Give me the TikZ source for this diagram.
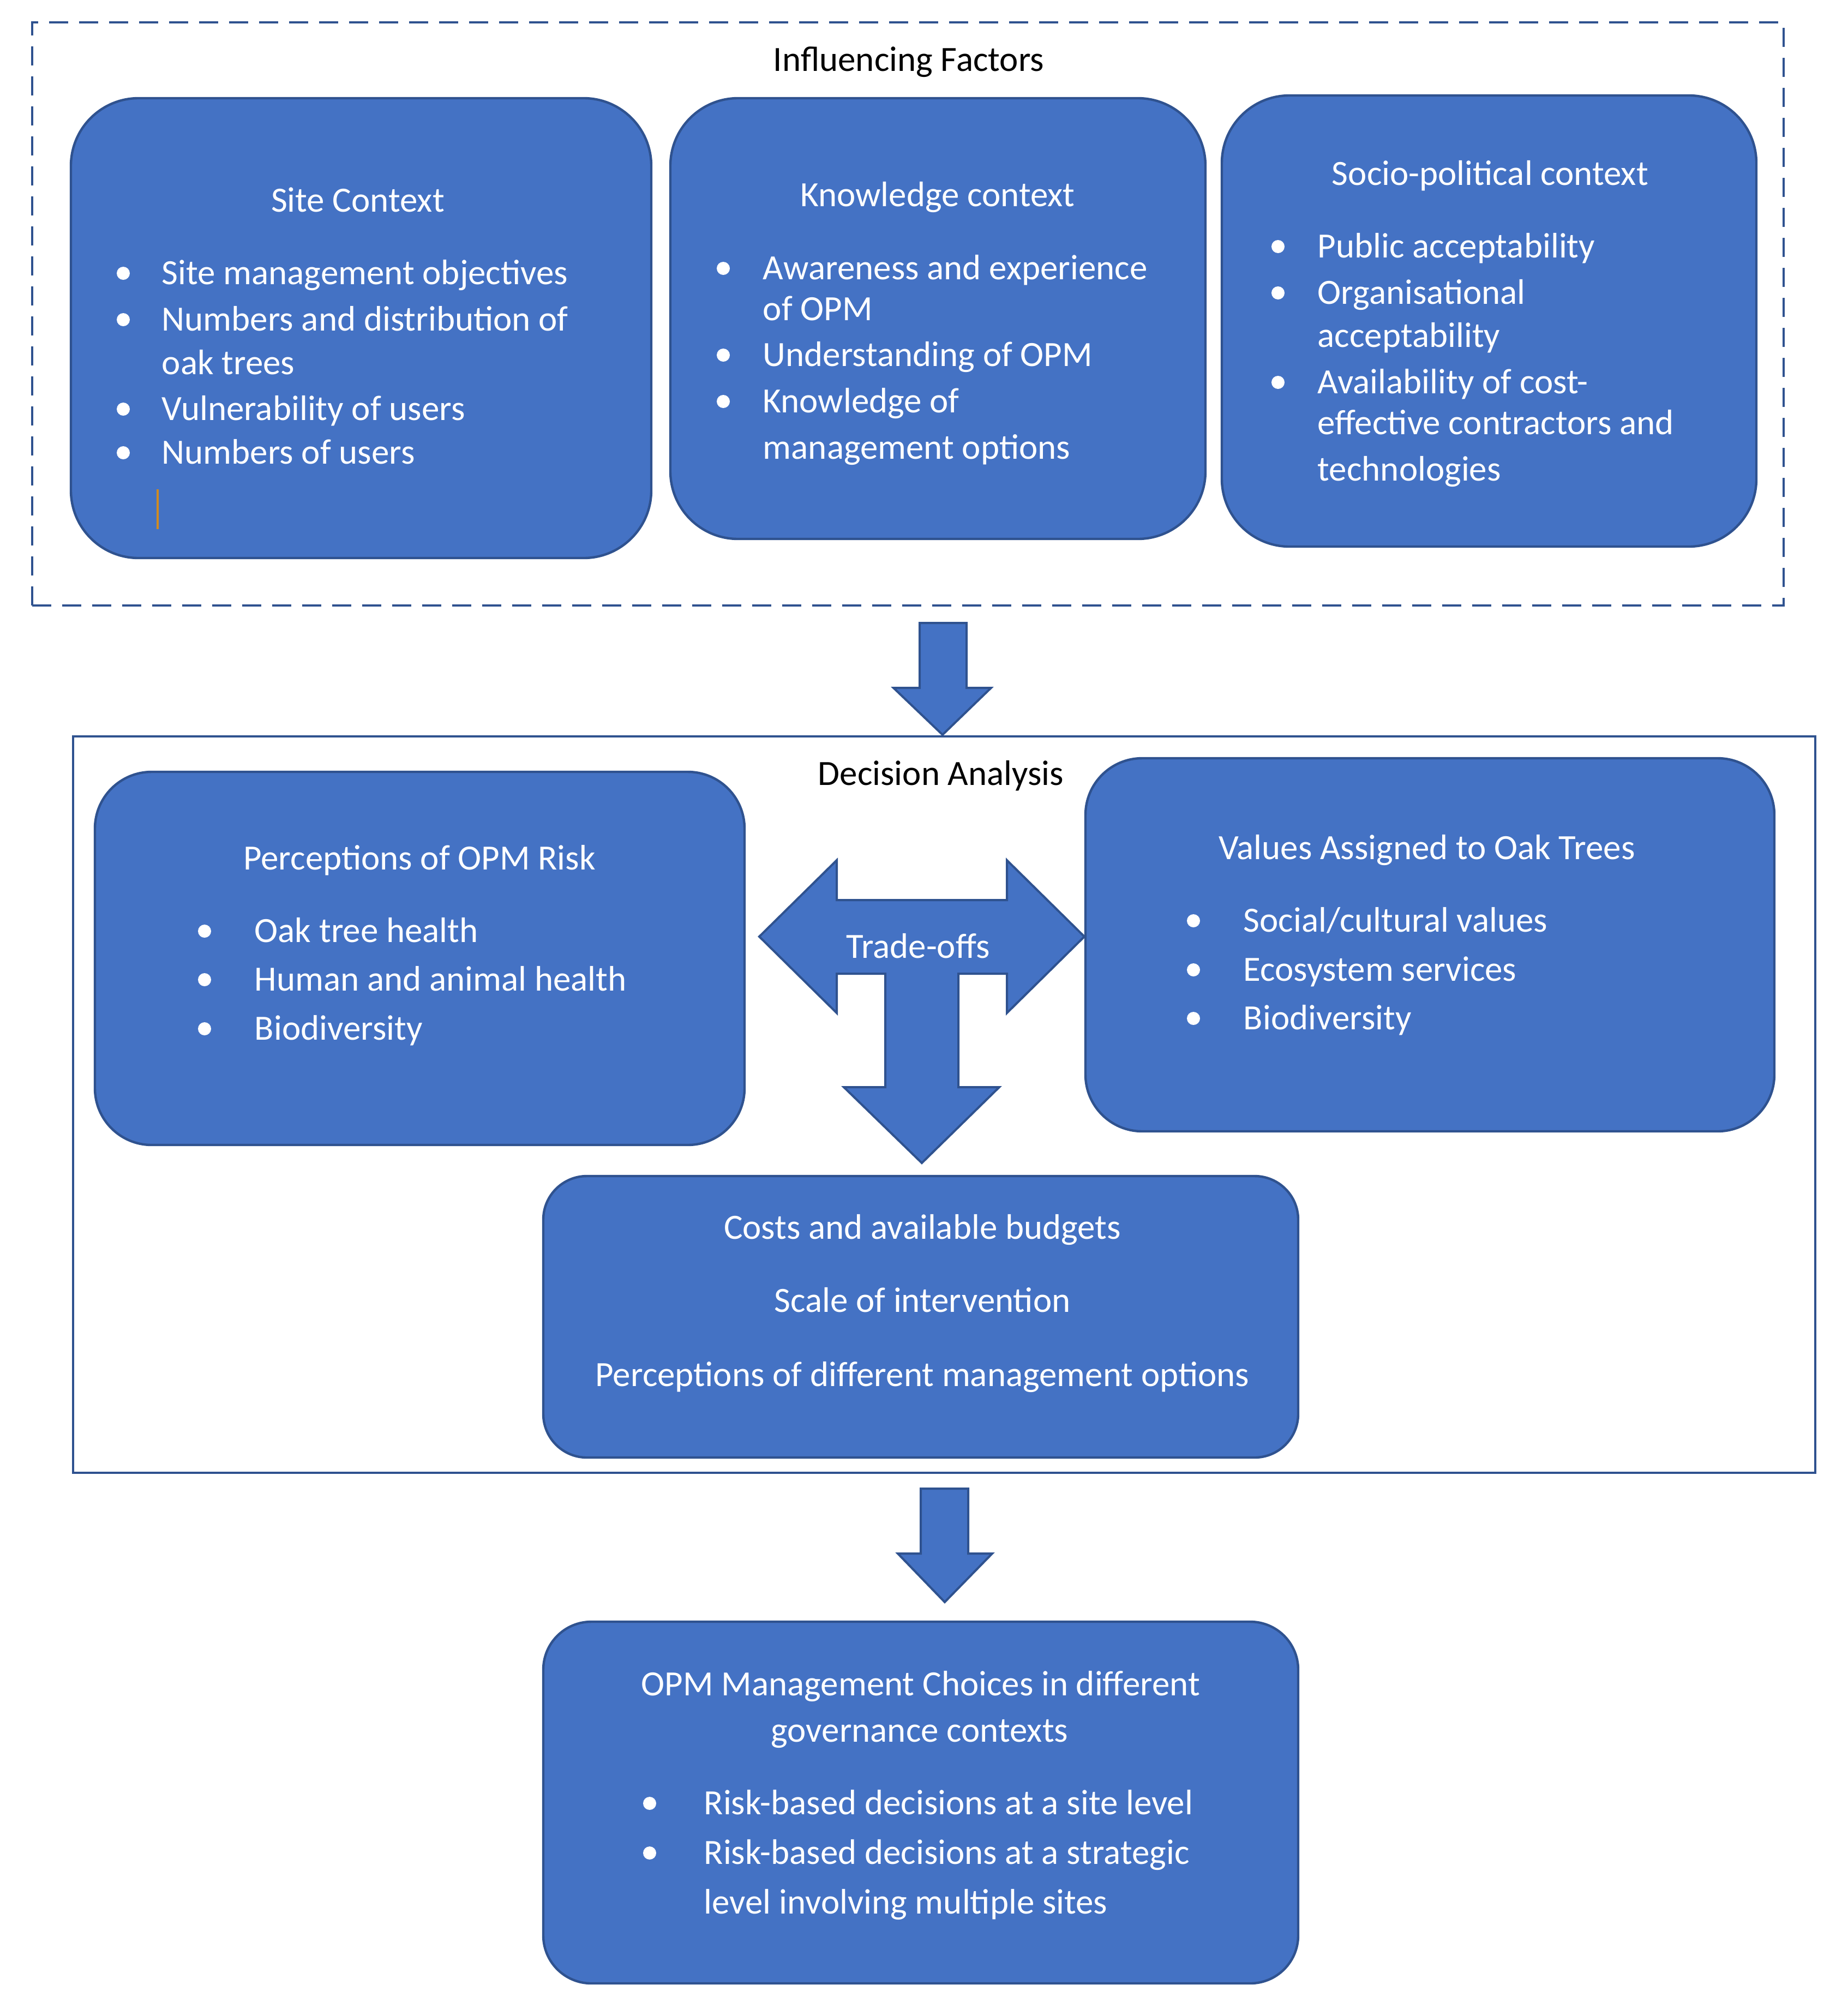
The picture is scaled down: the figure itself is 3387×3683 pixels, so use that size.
\documentclass[tikz,border=0pt]{standalone}
\usepackage{fontspec}
\setmainfont{Carlito}
\usetikzlibrary{fit}
\definecolor{boxfill}{HTML}{4472C4}
\definecolor{boxline}{HTML}{2F528F}
\definecolor{cursorcol}{HTML}{D08A20}
\tikzset{
  box/.style={draw=boxline, fill=boxfill, line width=1.1pt, inner sep=0pt},
  frame/.style={draw=boxline, line width=1.1pt, inner sep=0pt},
  dashframe/.style={frame, dash pattern=on 8.75pt off 5pt},
  blockarrow/.style={draw=boxline, fill=boxfill, line width=1pt, line join=miter},
  wtxt/.style={text=white, font=\fontsize{16.25}{20.3}\selectfont, inner sep=0pt, anchor=base west},
  wtitle/.style={wtxt, anchor=base},
  btitle/.style={text=black, font=\fontsize{16.25}{20.3}\selectfont, inner sep=0pt, anchor=base},
  bul/.style={circle, fill=white, inner sep=0pt, minimum size=6pt}
}
\begin{document}
\begin{tikzpicture}[x=0.25pt, y=-0.25pt]
\useasboundingbox (0,0) rectangle (3387,3683);

% ---------- Influencing factors frame ----------
\node[dashframe, fit={(59,41) (3270,1110)}] (inf) {};
\node[btitle] (inflabel) at (1666,130) {Influencing Factors};

% Site context
\node[box, rounded corners=31pt, fit={(130,180) (1194,1023)}] (site) {};
\node[wtitle] (sitet) at (656,388) {Site Context};
\node[bul] (sb1) at (226,501) {};
\node[bul] (sb2) at (226,586) {};
\node[bul] (sb3) at (226,750) {};
\node[bul] (sb4) at (226,830) {};
\node[wtxt] (st1) at (296,521) {Site management objectives};
\node[wtxt] (st2) at (296,606) {Numbers and distribution of};
\node[wtxt] (st2b) at (296,686) {oak trees};
\node[wtxt] (st3) at (296,770) {Vulnerability of users};
\node[wtxt] (st4) at (296,850) {Numbers of users};
\coordinate (cur1) at (289,897);
\coordinate (cur2) at (289,970);
\draw[cursorcol, line width=1.1pt] (cur1) -- (cur2);

% Knowledge context
\node[box, rounded corners=31pt, fit={(1229,180) (2210,988)}] (know) {};
\node[wtitle] (knowt) at (1719,378) {Knowledge context};
\node[bul] (kb1) at (1326,492) {};
\node[bul] (kb2) at (1326,651) {};
\node[bul] (kb3) at (1326,736) {};
\node[wtxt] (kt1) at (1398,512) {Awareness and experience};
\node[wtxt] (kt1b) at (1398,587) {of OPM};
\node[wtxt] (kt2) at (1398,671) {Understanding of OPM};
\node[wtxt] (kt3) at (1398,756) {Knowledge of};
\node[wtxt] (kt3b) at (1398,841) {management options};

% Socio-political context
\node[box, rounded corners=31pt, fit={(2240,175) (3220,1002)}] (socio) {};
\node[wtitle] (sociot) at (2732,339) {Socio-political context};
\node[bul] (pb1) at (2343,452) {};
\node[bul] (pb2) at (2343,537) {};
\node[bul] (pb3) at (2343,701) {};
\node[wtxt] (pt1) at (2415,472) {Public acceptability};
\node[wtxt] (pt2) at (2415,557) {Organisational};
\node[wtxt] (pt2b) at (2415,636) {acceptability};
\node[wtxt] (pt3) at (2415,721) {Availability of cost-};
\node[wtxt] (pt3b) at (2415,796) {effective contractors and};
\node[wtxt] (pt3c) at (2415,881) {technologies};

% ---------- Arrow 1 ----------
\draw[blockarrow] (1686,1142) -- (1772,1142) -- (1772,1261) -- (1817,1261)
  -- (1728,1347) -- (1638,1261) -- (1686,1261) -- cycle;

% ---------- Decision analysis frame ----------
\node[frame, fit={(134,1350) (3328,2700)}] (dec) {};
\node[btitle] (declabel) at (1725,1439) {Decision Analysis};

% Perceptions of OPM risk
\node[box, rounded corners=26pt, fit={(174,1415) (1365,2099)}] (perc) {};
\node[wtitle] (perct) at (769,1594) {Perceptions of OPM Risk};
\node[bul] (rb1) at (375,1707) {};
\node[bul] (rb2) at (375,1796) {};
\node[bul] (rb3) at (375,1886) {};
\node[wtxt] (rt1) at (466,1727) {Oak tree health};
\node[wtxt] (rt2) at (466,1816) {Human and animal health};
\node[wtxt] (rt3) at (466,1906) {Biodiversity};

% Values assigned to oak trees
\node[box, rounded corners=26pt, fit={(1990,1390) (3253,2074)}] (vals) {};
\node[wtitle] (valst) at (2616,1575) {Values Assigned to Oak Trees};
\node[bul] (vb1) at (2188,1688) {};
\node[bul] (vb2) at (2188,1778) {};
\node[bul] (vb3) at (2188,1867) {};
\node[wtxt] (vt1) at (2279,1708) {Social/cultural values};
\node[wtxt] (vt2) at (2279,1798) {Ecosystem services};
\node[wtxt] (vt3) at (2279,1887) {Biodiversity};

% Trade-offs three-way arrow
\draw[blockarrow] (1392,1717) -- (1534,1577) -- (1534,1650) -- (1846,1650) -- (1846,1577)
  -- (1988,1717) -- (1846,1857) -- (1846,1785) -- (1757,1785) -- (1757,1993)
  -- (1832,1993) -- (1690,2132) -- (1547,1993) -- (1623,1993) -- (1623,1785)
  -- (1534,1785) -- (1534,1857) -- cycle;
\node[wtitle] (trade) at (1683,1756) {Trade-offs};

% Costs box
\node[box, rounded corners=20pt, fit={(996,2156) (2380,2672)}] (costs) {};
\node[wtitle] (ct1) at (1691,2271) {Costs and available budgets};
\node[wtitle] (ct2) at (1691,2405) {Scale of intervention};
\node[wtitle] (ct3) at (1691,2541) {Perceptions of different management options};

% ---------- Arrow 2 ----------
\draw[blockarrow] (1688,2729) -- (1775,2729) -- (1775,2848) -- (1819,2848)
  -- (1732,2937) -- (1646,2848) -- (1688,2848) -- cycle;

% OPM management choices
\node[box, rounded corners=22pt, fit={(996,2973) (2380,3636)}] (opm) {};
\node[wtitle] (ot1) at (1688,3108) {OPM Management Choices in different};
\node[wtitle] (ot1b) at (1686,3193) {governance contexts};
\node[bul] (ob1) at (1191,3306) {};
\node[bul] (ob2) at (1191,3397) {};
\node[wtxt] (ot2) at (1290,3326) {Risk-based decisions at a site level};
\node[wtxt] (ot3) at (1290,3417) {Risk-based decisions at a strategic};
\node[wtxt] (ot3b) at (1290,3508) {level involving multiple sites};
\end{tikzpicture}
\end{document}
